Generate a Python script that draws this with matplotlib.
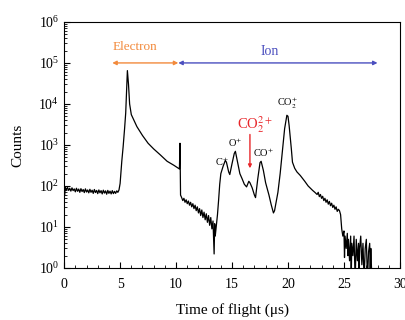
# import libraries
import matplotlib
matplotlib.use('Agg')
import matplotlib.pyplot as plt
from matplotlib.ticker import LogLocator, MultipleLocator, NullFormatter

plt.rcParams['font.family'] = ['Liberation Serif', 'DejaVu Serif']
plt.rcParams['mathtext.fontset'] = 'stix'

# time of flight (us) and counts
tof = [0.05, 0.1, 0.2, 0.3, 0.4, 0.5, 0.6, 0.7, 0.8, 0.9, 1.0, 1.1, 1.2, 1.3, 1.4, 1.5,
       1.6, 1.7, 1.8, 1.9, 2.0, 2.1, 2.2, 2.3, 2.4, 2.5, 2.6, 2.7, 2.8, 2.9, 3.0, 3.1,
       3.2, 3.3, 3.4, 3.5, 3.6, 3.7, 3.8, 3.9, 4.0, 4.1, 4.2, 4.3, 4.4, 4.5, 4.6, 4.7, 4.8,
       4.9, 5.0, 5.15, 5.27, 5.4, 5.5, 5.6, 5.65, 5.75, 5.85, 6.0, 6.2, 6.5, 7.0, 7.5,
       8.0, 8.6, 9.2, 9.8, 10.2, 10.3, 10.35, 10.4, 10.5,
       10.6, 10.7, 10.8, 10.9, 11.0, 11.1, 11.2, 11.3, 11.4, 11.5, 11.6, 11.7, 11.8,
       11.9, 12.0, 12.1, 12.2, 12.3, 12.4, 12.5, 12.6, 12.7, 12.8, 12.9, 13.0, 13.1,
       13.2, 13.3, 13.4, 13.45, 13.5, 13.6, 13.7, 13.8, 13.9, 14.0, 14.2, 14.4, 14.5,
       14.7, 14.8, 15.0, 15.2, 15.3, 15.5, 15.7, 15.9, 16.1, 16.3, 16.5, 16.6, 16.8,
       17.0, 17.1, 17.3, 17.5, 17.6, 17.8, 18.0, 18.3, 18.5, 18.7, 18.8, 18.9, 19.1,
       19.3, 19.5, 19.7, 19.9, 20.0, 20.1, 20.3, 20.4, 20.6, 20.8, 21.1, 21.5, 21.8,
       22.2, 22.4, 22.6, 22.7, 22.8, 22.9, 23.0, 23.1, 23.2, 23.3, 23.4, 23.5, 23.6,
       23.7, 23.8, 23.9, 24.0, 24.1, 24.2, 24.3, 24.4, 24.5, 24.6, 24.7, 24.8, 24.9,
       25.0, 25.05, 25.1, 25.2, 25.3, 25.35, 25.4, 25.5, 25.6, 25.65, 25.7, 25.8, 25.9,
       26.0, 26.1, 26.2, 26.3, 26.35, 26.4, 26.5, 26.6, 26.7, 26.8, 26.9, 27.0, 27.1,
       27.2, 27.3, 27.35, 27.4, 27.5]
counts = [60, 95, 80, 92, 78, 88, 75, 90, 77, 85, 72, 88, 74, 84, 70, 86,
          73, 82, 69, 85, 71, 80, 68, 83, 70, 79, 66, 82, 69, 78, 65, 80,
          68, 77, 64, 79, 67, 76, 63, 78, 66, 75, 64, 77, 65, 74, 66, 76, 70,
          80, 115, 400, 900, 2500, 6000, 30000, 65000, 30000, 10000, 5500, 4200, 2800, 1700, 1100,
          800, 570, 400, 320, 270, 260, 1100, 60, 52,
          44, 50, 40, 46, 37, 43, 34, 40, 31, 37, 28, 34, 25,
          31, 22, 28, 19, 26, 17, 23, 15, 21, 13, 19, 11, 17,
          9, 14, 2.2, 12, 6, 11, 20, 45, 110, 200, 300, 420, 380,
          220, 190, 350, 620, 700, 380, 200, 150, 110, 95, 130, 120, 90,
          60, 52, 150, 370, 400, 240, 120, 60, 35, 22, 25, 35, 70,
          200, 700, 2500, 5300, 5000, 3000, 800, 380, 270, 220, 180, 130, 100,
          78, 70, 62, 70, 55, 62, 50, 56, 44, 50, 40, 46, 36,
          42, 33, 38, 30, 34, 27, 31, 24, 27, 25, 20, 9, 6,
          8, 1.8, 6, 3, 7, 2, 5, 1.5, 6, 0.5, 4, 2, 6,
          0.5, 5, 1.5, 4, 0.5, 3, 6, 1.2, 4, 0.5, 3, 5, 0.5,
          2.5, 4, 1, 3, 0.5]

# peak labels
peak_labels = ['C$^{+}$', 'O$^{+}$', 'CO$^{+}$', 'CO$_2^{+}$']
peak_x = [14.1, 15.3, 17.8, 20.0]
peak_y = [390, 1100, 630, 10500]

fig = plt.figure(figsize=(4.06, 3.2), dpi=100)
ax = fig.add_axes([0.158, 0.1625, 0.827, 0.769])

ax.plot(tof, counts, color='black', lw=0.9)

ax.set_yscale('log')
ax.set_xlim(0, 30)
ax.set_ylim(1, 1e6)

# electron / ion regions
ax.annotate('', xy=(4.3, 1e5), xytext=(10.2, 1e5),
            arrowprops=dict(arrowstyle='<|-|>', color='#f28a3c', lw=1.0,
                            mutation_scale=6, shrinkA=0, shrinkB=0))
ax.annotate('', xy=(10.2, 1e5), xytext=(28.0, 1e5),
            arrowprops=dict(arrowstyle='<|-|>', color='#4b4fbf', lw=1.0,
                            mutation_scale=6, shrinkA=0, shrinkB=0))
ax.text(6.3, 2.4e5, 'Electron', color='#f28a3c', fontsize=9.5, ha='center', va='center')
ax.text(18.4, 1.9e5, 'Ion', color='#4b4fbf', fontsize=10, ha='center', va='center')

for lab, px, py in zip(peak_labels, peak_x, peak_y):
    ax.text(px, py, lab, fontsize=7.5, ha='center', va='center')

# CO2 2+ marker
ax.text(17.0, 3100, 'CO$_2^{2+}$', color='#e8262a', fontsize=10.5, ha='center', va='center')
ax.annotate('', xy=(16.6, 270), xytext=(16.6, 1800),
            arrowprops=dict(arrowstyle='-|>', color='#e8262a', lw=1.0,
                            mutation_scale=5, shrinkA=0, shrinkB=0))

ax.xaxis.set_major_locator(MultipleLocator(5))
ax.xaxis.set_minor_locator(MultipleLocator(1))
ax.yaxis.set_major_locator(LogLocator(base=10, numticks=10))
ax.yaxis.set_minor_locator(LogLocator(base=10, subs=range(2, 10), numticks=10))
ax.yaxis.set_minor_formatter(NullFormatter())
ax.tick_params(which='both', direction='in', top=False, right=False, labelsize=10)
ax.tick_params(axis='x', pad=7)
ax.tick_params(which='major', length=4)
ax.tick_params(which='minor', length=2)

ax.set_xlabel('Time of flight (μs)', fontsize=11, labelpad=9)
ax.set_ylabel('Counts', fontsize=11, labelpad=10)

fig.savefig('out.png', dpi=100)
